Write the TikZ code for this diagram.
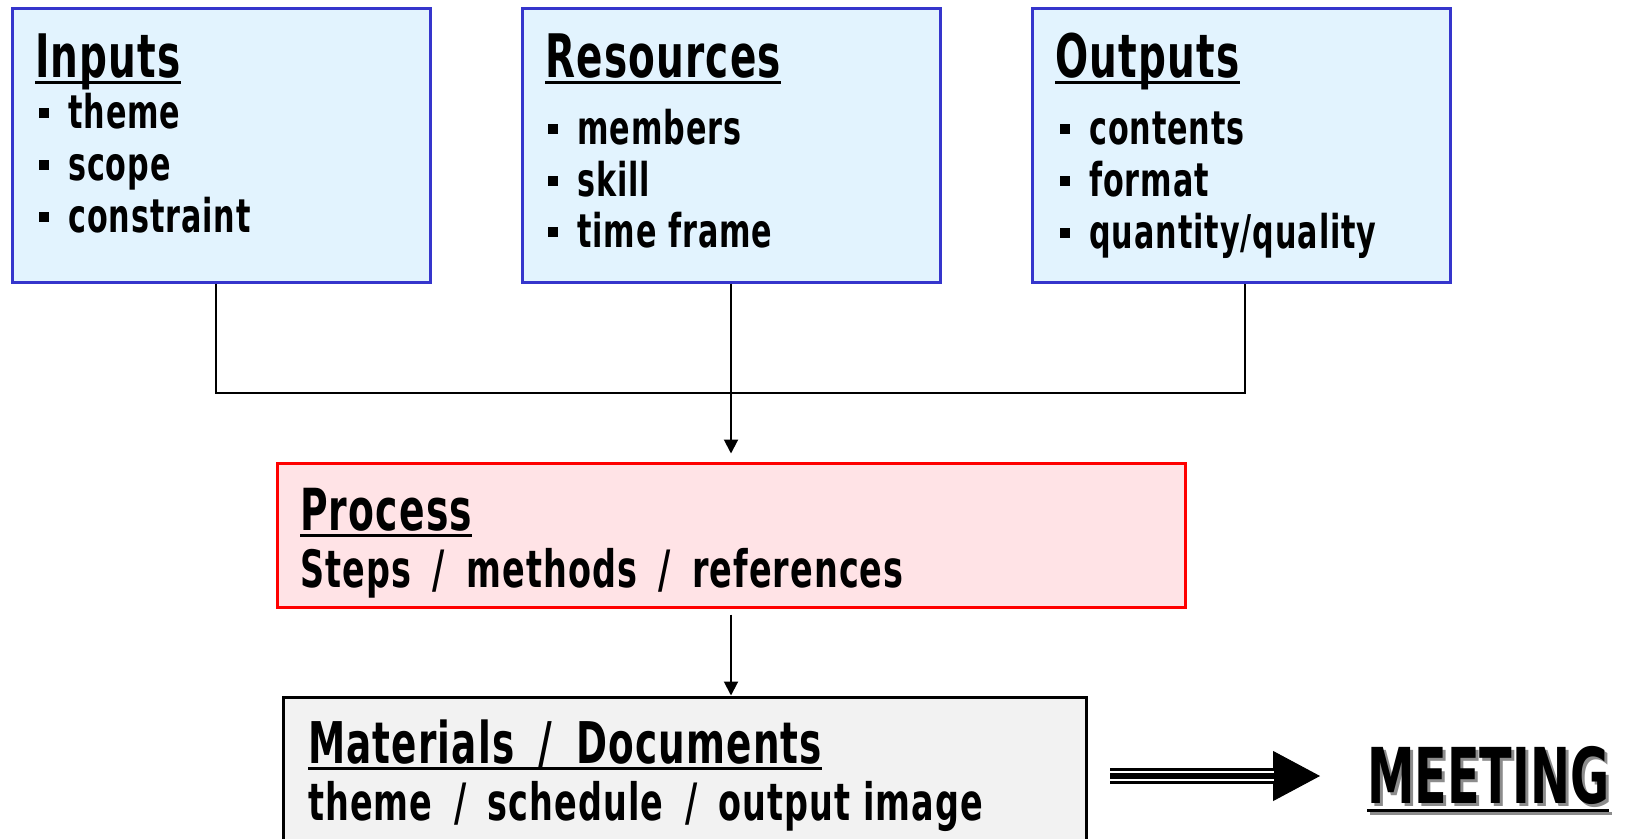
\documentclass[tikz,border=0pt]{standalone}
\usepackage{fontspec}
\setmainfont{DejaVu Sans}[FakeStretch=0.65, LetterSpace=2]
\newfontfamily\mtgfont{DejaVu Sans}[FakeStretch=0.62]
\usetikzlibrary{arrows.meta}

\definecolor{boxblue}{HTML}{E2F3FE}
\definecolor{edgeblue}{HTML}{3535CC}
\definecolor{boxpink}{HTML}{FFE3E6}
\definecolor{boxgrey}{HTML}{F2F2F2}

\newsavebox{\ulbox}
\newcommand{\hdul}[2][-7pt]{\sbox{\ulbox}{#2}\rlap{\rule[#1]{\wd\ulbox}{3.5pt}}\usebox{\ulbox}}
\newcommand{\bul}{\rule[10pt]{10pt}{10pt}\hspace{19pt}}
\newcommand{\slsep}{\hspace{0.42em}/\hspace{0.42em}}

\begin{document}
\begin{tikzpicture}[x=1pt, y=-1pt,
	bluebox/.style={draw=edgeblue, fill=boxblue, line width=3pt, inner sep=0, minimum width=418pt, minimum height=274pt},
	ttl/.style={anchor=base west, inner sep=0, font=\fontsize{60}{72}\selectfont\bfseries},
	itm/.style={anchor=base west, inner sep=0, font=\fontsize{46.5}{55}\selectfont\bfseries},
	sub/.style={anchor=base west, inner sep=0, font=\fontsize{51.5}{60}\selectfont\bfseries},
	flow/.style={line width=2pt, -{Triangle[length=14pt, width=14pt]}}]
	\useasboundingbox (0,0) rectangle (1632,838);
	\clip (0,0) rectangle (1632,838);

	\node[bluebox] (inputs) at (221,145) {};
	\node[bluebox] (resources) at (731,145) {};
	\node[bluebox] (outputs) at (1241,145) {};
	\node[draw=red, fill=boxpink, line width=3pt, inner sep=0, minimum width=908pt, minimum height=144pt] (process) at (731,535) {};
	\node[draw=black, fill=boxgrey, line width=3pt, inner sep=0, minimum width=803pt, minimum height=200pt] (materials) at (685,797) {};

	\node[ttl] (inputs-t) at (35,77) {\hdul{Inputs}};
	\node[itm] (inputs-1) at (39,128) {\bul theme};
	\node[itm] (inputs-2) at (39,180) {\bul scope};
	\node[itm] (inputs-3) at (39,232) {\bul constraint};

	\node[ttl] (resources-t) at (545,77) {\hdul{Resources}};
	\node[itm] (resources-1) at (548,144) {\bul members};
	\node[itm] (resources-2) at (548,196) {\bul skill};
	\node[itm] (resources-3) at (548,247) {\bul time frame};

	\node[ttl] (outputs-t) at (1055,77) {\hdul{Outputs}};
	\node[itm] (outputs-1) at (1060,144) {\bul contents};
	\node[itm] (outputs-2) at (1060,196) {\bul format};
	\node[itm] (outputs-3) at (1060,248) {\bul quantity/quality};

	\node[ttl, font=\fontsize{58}{70}\selectfont\bfseries] (process-t) at (300,530) {\hdul{Process}};
	\node[sub] (process-1) at (300,587) {Steps\slsep methods\slsep references};

	\node[ttl, font=\fontsize{57.5}{68}\selectfont\bfseries] (materials-t) at (308,763) {\hdul{Materials\slsep Documents}};
	\node[sub] (materials-1) at (308,820) {theme\slsep schedule\slsep output image};

	\node[anchor=base west, inner sep=0, font=\fontsize{77}{90}\selectfont\mtgfont\bfseries] (meeting) at (1367,803)
		{\textcolor{black!45}{\rlap{\hspace{3pt}\raisebox{-3pt}{\hdul[-9pt]{MEETING}}}}\hdul[-9pt]{MEETING}};

	\coordinate (join) at (731,393);
	\coordinate (mtgtip) at (1320,776);

	\draw[line width=2.4pt] ([xshift=-5pt]inputs.south) |- (join) -| ([xshift=4pt]outputs.south);
	\draw[flow, shorten >=8pt] (resources) -- (process);
	\draw[flow, shorten <=6pt] (process.south) -- (process.south |- materials.north);

	\draw[line width=1pt, -{Triangle[length=47pt, width=50pt]}, shorten <=22pt] (materials.east |- mtgtip) -- (mtgtip);
	\draw[line width=16pt, shorten <=22pt, shorten >=46pt] (materials.east |- mtgtip) -- (mtgtip);
	\draw[white, line width=2pt, double=black, double distance=6pt, shorten <=22pt, shorten >=46pt] (materials.east |- mtgtip) -- (mtgtip);
\end{tikzpicture}
\end{document}
